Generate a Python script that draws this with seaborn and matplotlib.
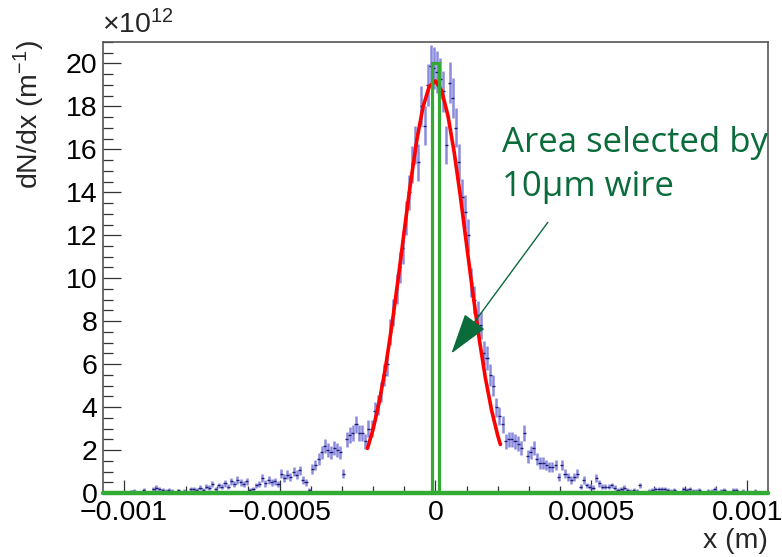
import numpy as np
import matplotlib
matplotlib.use("Agg")
import matplotlib.pyplot as plt
import seaborn as sns
from matplotlib.patches import Rectangle
from matplotlib.ticker import MultipleLocator, FixedLocator

# ---------------- data (dN/dx in units of 1e12 m^-1) ----------------
hist_lo = -0.00107
hist_hi = 0.00107
counts = [
    0, 0, 0.06, 0, 0, 0.05, 0, 0, 0, 0.08,
    0.1, 0, 0.05, 0.15, 0, 0.05, 0.2, 0.25, 0.2, 0.15,
    0.1, 0.15, 0.1, 0.05, 0.12, 0.05, 0.1, 0, 0.2, 0.2,
    0.15, 0.25, 0.15, 0.3, 0.25, 0.4, 0.2, 0.35, 0.3, 0.45,
    0.3, 0.55, 0.4, 0.6, 0.5, 0.4, 0.55, 0.15, 0.2, 0.35,
    0.4, 0.7, 0.45, 0.6, 0.5, 0.55, 0.4, 0.9, 0.7, 0.85,
    0.75, 1.0, 0.85, 1.05, 0.6, 0.5, 0.15, 1.1, 1.3, 1.6,
    1.9, 2.2, 2.0, 1.9, 2.1, 2.0, 1.9, 0.9, 2.5, 2.7,
    2.8, 3.2, 2.8, 2.8, 2.4, 3.0, 3.0, 3.8, 4.1, 4.7,
    5.5, 6.0, 7.5, 8.4, 9.5, 10.5, 11.4, 12.8, 14.0, 15.3,
    16.2, 15.4, 18.0, 17.1, 19.0, 19.9, 19.8, 19.6, 19.3, 18.7,
    16.2, 19.1, 18.4, 17.0, 15.4, 13.8, 13.1, 12.0, 9.8, 9.0,
    8.3, 7.8, 6.5, 6.3, 5.5, 5.0, 4.0, 3.6, 3.2, 2.4,
    2.5, 2.5, 2.4, 2.3, 2.1, 2.8, 1.7, 1.9, 2.1, 1.6,
    1.4, 1.4, 1.3, 1.2, 1.2, 1.3, 0.75, 1.3, 0.9, 0.75,
    0.6, 0.75, 0.9, 0.3, 0.6, 0.35, 0.3, 0.25, 0.7, 0.45,
    0.3, 0.3, 0.3, 0.35, 0.25, 0.15, 0.2, 0.25, 0.15, 0.1,
    0.15, 0.1, 0.35, 0.05, 0.05, 0.1, 0.15, 0.2, 0.2, 0.2,
    0.2, 0.15, 0.1, 0.15, 0, 0.05, 0.2, 0.15, 0.2, 0.1,
    0.1, 0.15, 0, 0.05, 0.1, 0.1, 0.2, 0.05, 0.1, 0.15,
    0.05, 0, 0.15, 0.15, 0.05, 0.1, 0, 0, 0, 0.1,
    0, 0.05, 0, 0,
]
err_scale = 0.22  # statistical error ~ sqrt of content

fit_x = [-0.000218, -0.0002, -0.00018, -0.00016, -0.00014, -0.00012, -0.0001,
         -0.00008, -0.00006, -0.00004, -0.00002, 0.0, 0.00002, 0.00004,
         0.00006, 0.00008, 0.0001, 0.00012, 0.00014, 0.00016, 0.00018,
         0.0002, 0.000208]
fit_y = [2.08, 2.97, 4.26, 5.87, 7.79, 9.94, 12.22, 14.44, 16.42, 17.98,
         18.93, 19.19, 18.72, 17.56, 15.86, 13.79, 11.52, 9.28, 7.19, 5.35,
         3.84, 2.65, 2.26]

wire_left = -0.0000105
wire_right = 0.0000105
wire_height = 20.0

xticks = [-0.001, -0.0005, 0.0, 0.0005, 0.001]
xtick_labels = ["\u22120.001", "\u22120.0005", "0", "0.0005", "0.001"]
yticks = [0, 2, 4, 6, 8, 10, 12, 14, 16, 18, 20]
ytick_labels = [str(v) for v in yticks]

annot_lines = ["Area selected by", "10\u00b5m wire"]
arrow_tip = (0.000051, 6.5)
arrow_start = (0.000360, 12.6)

# ---------------- style ----------------
sns.set_style("white")
plt.rcParams["font.family"] = ["Liberation Sans", "DejaVu Sans"]
plt.rcParams["mathtext.fontset"] = "custom"
plt.rcParams["mathtext.rm"] = "Liberation Sans"
plt.rcParams["mathtext.it"] = "Liberation Sans:italic"
plt.rcParams["axes.unicode_minus"] = True

GREEN = "#33aa33"
DKGREEN = "#0a6b3b"
FS = 20.5

fig = plt.figure(figsize=(7.82, 5.57), dpi=100)
ax = fig.add_axes([0.1317, 0.1149, 0.8504, 0.8097])

n = len(counts)
edges = np.linspace(hist_lo, hist_hi, n + 1)
centers = 0.5 * (edges[:-1] + edges[1:])
bw = edges[1] - edges[0]
vals = np.asarray(counts, dtype=float)
errs = err_scale * np.sqrt(vals)
mask = vals > 0

ax.errorbar(centers[mask], vals[mask], yerr=errs[mask], fmt="none",
            ecolor="#8a8ade", elinewidth=1.8, zorder=2)
ax.errorbar(centers[mask], vals[mask], xerr=bw / 2, fmt="none",
            ecolor="#1c1c72", elinewidth=1.0, zorder=3)

sns.lineplot(x=fit_x, y=fit_y, color="red", linewidth=2.6, ax=ax,
             sort=False, estimator=None, zorder=4)

ax.add_patch(Rectangle((wire_left, 0), wire_right - wire_left, wire_height,
                       fill=False, edgecolor=GREEN, linewidth=2.3, zorder=5))
ax.axhline(0, color=GREEN, linewidth=3.2, zorder=6, clip_on=False)

ax.set_xlim(-0.001066, 0.001066)
ax.set_ylim(0, 21)

ax.xaxis.set_major_locator(FixedLocator(xticks))
ax.set_xticklabels(xtick_labels)
ax.xaxis.set_minor_locator(MultipleLocator(0.0001))
ax.yaxis.set_major_locator(FixedLocator(yticks))
ax.set_yticklabels(ytick_labels)
ax.yaxis.set_minor_locator(MultipleLocator(0.5))

ax.tick_params(axis="both", which="both", direction="in", top=False,
               right=False, bottom=True, left=True, colors="#333333",
               labelsize=FS, width=0.9)
ax.tick_params(axis="x", which="major", length=9.5, pad=5)
ax.tick_params(axis="x", which="minor", length=5)
ax.tick_params(axis="y", which="major", length=13, pad=4)
ax.tick_params(axis="y", which="minor", length=7)
for lab in ax.get_xticklabels() + ax.get_yticklabels():
    lab.set_color("black")

for s in ax.spines.values():
    s.set_color("#555555")
    s.set_linewidth(1.2)

fig.text(0.038, 0.928, r"dN/dx (m$^{-1}$)", rotation=90, ha="center",
         va="top", fontsize=FS)
fig.text(0.982, 0.005, "x (m)", ha="right", va="bottom", fontsize=FS)
fig.text(0.131, 0.93, r"$\mathregular{\times10^{12}}$", ha="left",
         va="bottom", fontsize=FS)

ax.annotate("", xy=arrow_tip, xytext=arrow_start,
            arrowprops=dict(arrowstyle="-|>,head_length=1.3,head_width=0.4",
                            color=DKGREEN, lw=1.0, mutation_scale=20,
                            shrinkA=0, shrinkB=0), zorder=7)

fig.text(0.642, 1 - 152 / 557, annot_lines[0], ha="left", va="baseline",
         fontsize=25, color=DKGREEN, family=["Open Sans", "DejaVu Sans"])
fig.text(0.642, 1 - 196 / 557, annot_lines[1], ha="left", va="baseline",
         fontsize=25, color=DKGREEN, family=["Open Sans", "DejaVu Sans"])

fig.savefig("out.png", dpi=100, facecolor="white")
